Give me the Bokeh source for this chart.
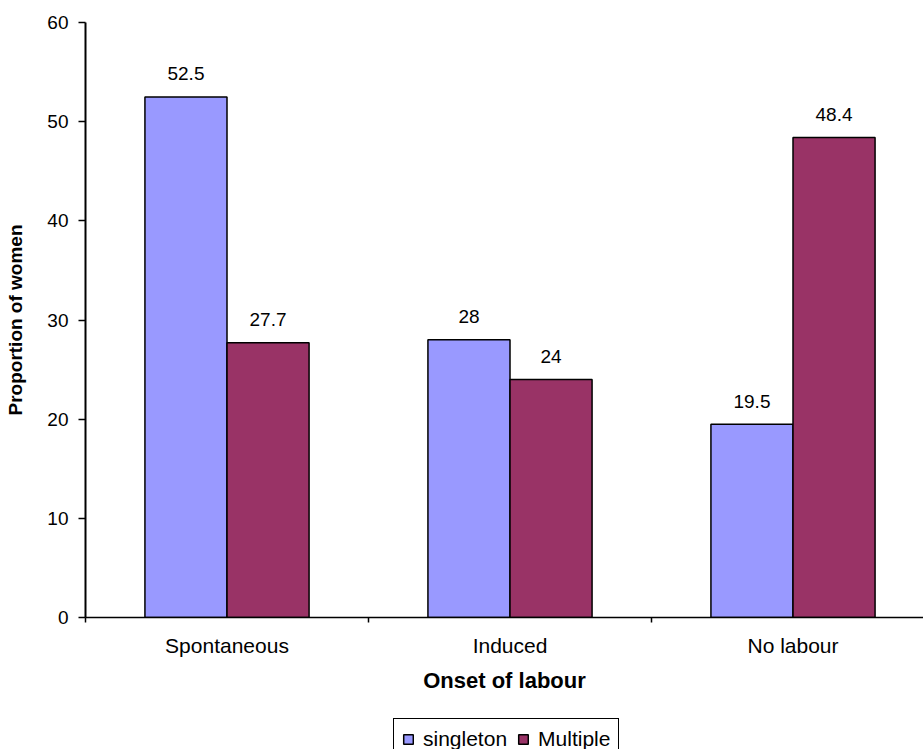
import numpy as np
from bokeh.plotting import figure
from bokeh.layouts import column
from bokeh.models import Range1d, FixedTicker, Legend, LegendItem, ColumnDataSource
from bokeh.core.properties import value
from bokeh.embed import file_html
from bokeh.resources import INLINE

# Onset of labour by pregnancy type (% of women)
categories = ["Spontaneous", "Induced", "No labour"]
singleton = [52.5, 28, 19.5]
multiple = [27.7, 24, 48.4]
series_names = ["singleton", "Multiple"]
y_ticks = [0, 10, 20, 30, 40, 50, 60]

FONT = "Liberation Sans"
SINGLE_COLOR = "#9999FF"
MULTI_COLOR = "#993366"

centers = np.arange(len(categories)) + 0.5
bar_w = 0.29
off = bar_w / 2

src_s = ColumnDataSource(dict(x=centers - off, top=singleton,
                              lab=[f"{v:g}" for v in singleton]))
src_m = ColumnDataSource(dict(x=centers + off, top=multiple,
                              lab=[f"{v:g}" for v in multiple]))

W = 923
H_MAIN, H_LEG = 712, 37
left, top = 85, 22
frame_bottom = 617
cat_px = 283.0

p = figure(width=W, height=H_MAIN, output_backend="svg", toolbar_location=None,
           x_range=Range1d(0, (W - left) / cat_px), y_range=Range1d(0, 60),
           min_border_left=left, min_border_right=0,
           min_border_top=top, min_border_bottom=H_MAIN - frame_bottom)
p.outline_line_color = None
p.grid.visible = False
p.background_fill_color = "white"
p.border_fill_color = "white"

p.vbar(x="x", top="top", width=bar_w, source=src_s,
       fill_color=SINGLE_COLOR, line_color="black", line_width=1.5)
p.vbar(x="x", top="top", width=bar_w, source=src_m,
       fill_color=MULTI_COLOR, line_color="black", line_width=1.5)

# value labels above each bar
for src in (src_s, src_m):
    p.text(x="x", y="top", text="lab", source=src, y_offset=-23,
           text_align="center", text_baseline="alphabetic",
           text_font=value(FONT), text_font_size="19px", text_color="black")

# y axis
ya = p.yaxis[0]
ya.ticker = FixedTicker(ticks=y_ticks)
ya.axis_line_width = 2
ya.axis_line_color = "black"
ya.major_tick_out = 7
ya.major_tick_in = 0
ya.major_tick_line_width = 1.5
ya.minor_tick_line_color = None
ya.major_label_text_font = FONT
ya.major_label_text_font_size = "19px"
ya.major_label_text_color = "black"
ya.major_label_standoff = 10
ya.axis_label = "Proportion of women"
ya.axis_label_text_font = FONT
ya.axis_label_text_font_size = "19px"
ya.axis_label_text_font_style = "bold"
ya.axis_label_text_color = "black"
ya.axis_label_standoff = 18

# x axis: category names at centres, separator ticks between groups
xa = p.xaxis[0]
xa.ticker = FixedTicker(ticks=list(centers),
                        minor_ticks=list(range(len(categories) + 1)))
xa.major_label_overrides = {float(c): n for c, n in zip(centers, categories)}
xa.axis_line_width = 1.5
xa.axis_line_color = "black"
xa.major_tick_out = 0
xa.major_tick_in = 0
xa.minor_tick_out = 5
xa.minor_tick_in = 0
xa.minor_tick_line_width = 1.5
xa.minor_tick_line_color = "black"
xa.major_label_text_font = FONT
xa.major_label_text_font_size = "21px"
xa.major_label_text_color = "black"
xa.major_label_standoff = 11
xa.axis_label = "Onset of labour"
xa.axis_label_text_font = FONT
xa.axis_label_text_font_size = "22px"
xa.axis_label_text_font_style = "bold"
xa.axis_label_text_color = "black"
xa.axis_label_standoff = 8

# legend strip underneath the chart; its frame lines up with the chart frame,
# and the swatch glyphs lie below its visible range
leg_fig = figure(width=W, height=H_LEG, output_backend="svg", toolbar_location=None,
                 x_range=Range1d(0, 1), y_range=Range1d(0, 1),
                 x_axis_location=None, y_axis_location=None,
                 min_border=0, outline_line_color=None)
leg_fig.grid.visible = False
sw_s = leg_fig.vbar(x=[0.5], bottom=[-3], top=[-2], width=0.1,
                    fill_color=SINGLE_COLOR, line_color="black", line_width=1.5)
sw_m = leg_fig.vbar(x=[0.5], bottom=[-3], top=[-2], width=0.1,
                    fill_color=MULTI_COLOR, line_color="black", line_width=1.5)

legend = Legend(items=[LegendItem(label=series_names[0], renderers=[sw_s]),
                       LegendItem(label=series_names[1], renderers=[sw_m])],
                orientation="horizontal", location=(393 - left, -11),
                glyph_width=12, glyph_height=12, label_standoff=9, spacing=10,
                padding=8, margin=0, border_line_color="black",
                border_line_width=1.5, border_line_alpha=1.0,
                label_text_font=FONT, label_text_font_size="21px",
                label_text_color="black", background_fill_alpha=1.0)
leg_fig.add_layout(legend, "center")

open("out.html", "w").write(file_html(column(p, leg_fig, spacing=0), INLINE))
